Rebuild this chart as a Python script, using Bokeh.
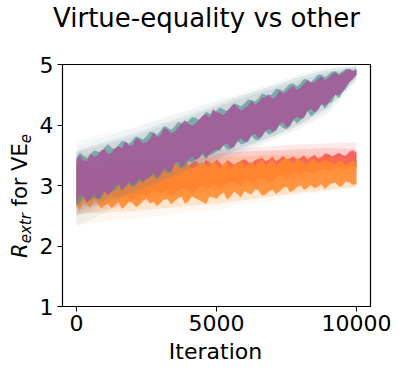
from bokeh.plotting import figure
from bokeh.models import Range1d, FixedTicker, Div
from bokeh.layouts import column, row
from bokeh.embed import file_html
from bokeh.resources import INLINE

# ---------------- data ----------------
# band edges every 250 iterations, plus the values read half-way between them
iterations = [0, 250, 500, 750, 1000, 1250, 1500, 1750, 2000, 2250, 2500, 2750, 3000,
              3250, 3500, 3750, 4000, 4250, 4500, 4750, 5000, 5250, 5500, 5750, 6000,
              6250, 6500, 6750, 7000, 7250, 7500, 7750, 8000, 8250, 8500, 8750, 9000,
              9250, 9500, 9750, 10000]
mid_iterations = [125, 375, 625, 875, 1125, 1375, 1625, 1875, 2125, 2375, 2625, 2875,
                  3125, 3375, 3625, 3875, 4125, 4375, 4625, 4875, 5125, 5375, 5625, 5875,
                  6125, 6375, 6625, 6875, 7125, 7375, 7625, 7875, 8125, 8375, 8625, 8875,
                  9125, 9375, 9625, 9875]

purple_hi = [3.44, 3.41, 3.53, 3.49, 3.60, 3.54, 3.65, 3.73, 3.67, 3.76, 3.72, 3.87, 3.83,
             3.93, 3.89, 4.02, 4.02, 4.02, 4.15, 4.12, 4.21, 4.16, 4.28, 4.29, 4.28, 4.41,
             4.37, 4.46, 4.43, 4.57, 4.55, 4.65, 4.62, 4.74, 4.71, 4.80, 4.78, 4.87, 4.86,
             4.92, 4.91]
purple_hi_mid = [3.50, 3.40, 3.47, 3.58, 3.52, 3.62, 3.61, 3.66, 3.78, 3.70, 3.77, 3.80,
                 3.95, 3.86, 3.96, 4.08, 3.99, 4.09, 4.18, 4.26, 4.20, 4.23, 4.35, 4.24,
                 4.32, 4.34, 4.45, 4.51, 4.47, 4.52, 4.61, 4.58, 4.68, 4.70, 4.77, 4.74,
                 4.84, 4.82, 4.90, 4.89]
purple_lo = [2.69, 2.81, 2.79, 2.78, 2.91, 2.90, 3.03, 2.99, 3.00, 3.12, 3.11, 3.22, 3.18,
             3.25, 3.36, 3.31, 3.43, 3.43, 3.54, 3.51, 3.59, 3.67, 3.62, 3.73, 3.72, 3.83,
             3.78, 3.90, 3.89, 4.01, 3.96, 4.09, 4.10, 4.23, 4.21, 4.35, 4.37, 4.50, 4.55,
             4.71, 4.83]
purple_lo_mid = [2.84, 2.72, 2.86, 2.83, 2.84, 2.98, 2.93, 3.07, 3.04, 3.06, 3.15, 3.13,
                 3.29, 3.22, 3.40, 3.37, 3.48, 3.46, 3.47, 3.57, 3.60, 3.70, 3.65, 3.78,
                 3.74, 3.85, 3.82, 3.94, 3.92, 4.05, 4.00, 4.14, 4.13, 4.27, 4.26, 4.32,
                 4.45, 4.49, 4.64, 4.76]

teal_hi = [3.46, 3.49, 3.52, 3.56, 3.63, 3.63, 3.67, 3.72, 3.75, 3.79, 3.81, 3.88, 3.90,
           3.96, 3.97, 4.03, 4.07, 4.12, 4.15, 4.19, 4.24, 4.26, 4.30, 4.34, 4.36, 4.41,
           4.44, 4.50, 4.52, 4.59, 4.62, 4.68, 4.69, 4.75, 4.77, 4.83, 4.83, 4.89, 4.89,
           4.93, 4.93]
teal_hi_mid = [3.54, 3.45, 3.58, 3.55, 3.68, 3.60, 3.74, 3.69, 3.81, 3.76, 3.89, 3.84,
               3.98, 3.92, 4.05, 4.01, 4.13, 4.08, 4.22, 4.17, 4.29, 4.23, 4.36, 4.31,
               4.42, 4.39, 4.52, 4.47, 4.60, 4.56, 4.68, 4.64, 4.76, 4.71, 4.83, 4.79,
               4.88, 4.85, 4.93, 4.90]
teal_lo = [2.68, 2.81, 2.76, 2.77, 2.89, 2.90, 3.00, 2.98, 2.98, 3.08, 3.11, 3.19, 3.17,
           3.21, 3.36, 3.29, 3.40, 3.42, 3.51, 3.51, 3.56, 3.66, 3.60, 3.73, 3.70, 3.82,
           3.75, 3.90, 3.87, 4.00, 3.93, 4.08, 4.08, 4.23, 4.19, 4.34, 4.35, 4.50, 4.54,
           4.71, 4.83]
teal_lo_mid = [2.70, 2.74, 2.80, 2.78, 2.86, 2.92, 2.91, 3.03, 3.00, 3.05, 3.12, 3.10,
               3.25, 3.20, 3.33, 3.31, 3.38, 3.45, 3.44, 3.52, 3.58, 3.59, 3.63, 3.68,
               3.72, 3.76, 3.80, 3.84, 3.90, 3.95, 3.98, 4.03, 4.12, 4.14, 4.24, 4.27,
               4.38, 4.44, 4.60, 4.76]

orange_hi = [3.33, 3.25, 3.34, 3.29, 3.25, 3.34, 3.27, 3.33, 3.25, 3.31, 3.29, 3.34, 3.27,
             3.32, 3.37, 3.27, 3.35, 3.31, 3.38, 3.30, 3.36, 3.37, 3.30, 3.36, 3.30, 3.40,
             3.37, 3.34, 3.42, 3.37, 3.45, 3.36, 3.41, 3.35, 3.43, 3.39, 3.40, 3.35, 3.39,
             3.37, 3.37]
orange_hi_mid = [3.22, 3.38, 3.24, 3.35, 3.31, 3.22, 3.38, 3.29, 3.36, 3.24, 3.37, 3.30,
                 3.39, 3.26, 3.33, 3.40, 3.28, 3.36, 3.33, 3.41, 3.29, 3.38, 3.33, 3.41,
                 3.35, 3.32, 3.43, 3.38, 3.33, 3.44, 3.40, 3.46, 3.38, 3.42, 3.36, 3.43,
                 3.38, 3.41, 3.34, 3.40]
orange_lo = [2.66, 2.71, 2.63, 2.71, 2.66, 2.63, 2.73, 2.66, 2.71, 2.68, 2.78, 2.73, 2.71,
             2.78, 2.74, 2.82, 2.74, 2.79, 2.73, 2.82, 2.78, 2.89, 2.81, 2.86, 2.91, 2.85,
             2.92, 2.85, 2.93, 2.90, 2.98, 2.92, 3.00, 2.96, 2.95, 3.02, 3.00, 3.05, 3.00,
             3.05, 3.03]
orange_lo_mid = [2.60, 2.69, 2.75, 2.62, 2.70, 2.67, 2.61, 2.74, 2.64, 2.75, 2.70, 2.66,
                 2.77, 2.69, 2.79, 2.70, 2.82, 2.76, 2.69, 2.80, 2.84, 2.77, 2.90, 2.80,
                 2.87, 2.94, 2.83, 2.90, 2.86, 2.96, 2.89, 2.97, 2.93, 3.01, 2.98, 2.94,
                 3.04, 2.98, 3.07, 3.01]

red_hi = [3.32, 3.25, 3.32, 3.25, 3.35, 3.29, 3.26, 3.36, 3.33, 3.29, 3.39, 3.28, 3.34,
          3.27, 3.35, 3.38, 3.32, 3.41, 3.33, 3.39, 3.43, 3.31, 3.39, 3.38, 3.44, 3.36,
          3.44, 3.40, 3.48, 3.44, 3.43, 3.48, 3.46, 3.43, 3.51, 3.47, 3.52, 3.51, 3.50,
          3.56, 3.54]
red_hi_mid = [3.27, 3.30, 3.21, 3.31, 3.26, 3.33, 3.31, 3.28, 3.37, 3.34, 3.31, 3.36,
              3.30, 3.38, 3.32, 3.34, 3.37, 3.36, 3.42, 3.35, 3.38, 3.42, 3.34, 3.41,
              3.39, 3.42, 3.46, 3.43, 3.40, 3.49, 3.45, 3.42, 3.50, 3.47, 3.45, 3.53,
              3.48, 3.54, 3.49, 3.58]
red_lo = [2.74, 2.81, 2.73, 2.80, 2.77, 2.84, 2.76, 2.82, 2.75, 2.85, 2.81, 2.93, 2.87,
          2.92, 2.87, 2.96, 2.93, 2.91, 3.00, 2.95, 3.00, 2.98, 3.07, 3.03, 3.07, 3.03,
          3.11, 3.09, 3.08, 3.16, 3.12, 3.21, 3.17, 3.24, 3.22, 3.26, 3.23, 3.28, 3.27,
          3.30, 3.29]
red_lo_mid = [2.79, 2.76, 2.78, 2.74, 2.82, 2.79, 2.80, 2.78, 2.81, 2.87, 2.86, 2.89,
              2.91, 2.84, 2.92, 2.95, 2.89, 2.97, 2.96, 3.02, 2.95, 3.03, 3.05, 3.00,
              3.09, 3.06, 3.13, 3.05, 3.13, 3.18, 3.15, 3.19, 3.22, 3.20, 3.25, 3.28,
              3.25, 3.31, 3.26, 3.32]

coarse_iterations = [0, 1000, 2000, 3000, 4000, 5000, 6000, 7000, 8000, 9000, 10000]
# spread of the individual runs (outer spikes)
teal_spread_lo = [2.50, 2.70, 2.87, 3.05, 3.25, 3.42, 3.62, 3.80, 4.00, 4.27, 4.76]
teal_spread_hi = [3.58, 3.72, 3.85, 4.02, 4.17, 4.34, 4.50, 4.65, 4.80, 4.92, 4.97]
purple_spread_lo = [2.55, 2.75, 2.90, 3.08, 3.28, 3.45, 3.65, 3.82, 4.02, 4.30, 4.78]
purple_spread_hi = [3.55, 3.68, 3.80, 3.97, 4.12, 4.30, 4.45, 4.60, 4.75, 4.88, 4.95]
orange_spread_lo = [2.55, 2.55, 2.58, 2.62, 2.66, 2.70, 2.76, 2.82, 2.88, 2.93, 2.98]
orange_spread_hi = [3.40, 3.38, 3.40, 3.42, 3.44, 3.46, 3.48, 3.50, 3.50, 3.48, 3.45]
red_spread_lo = [2.65, 2.68, 2.75, 2.80, 2.85, 2.90, 2.97, 3.02, 3.08, 3.15, 3.20]
red_spread_hi = [3.40, 3.42, 3.45, 3.48, 3.50, 3.53, 3.56, 3.58, 3.60, 3.62, 3.60]
# faint shaded halos
teal_halo_lo = [2.30, 2.55, 2.75, 2.95, 3.15, 3.35, 3.55, 3.75, 3.95, 4.20, 4.70]
teal_halo_hi = [3.75, 3.85, 3.95, 4.10, 4.25, 4.40, 4.55, 4.70, 4.85, 4.95, 5.00]
purple_halo_lo = [2.35, 2.55, 2.75, 2.95, 3.15, 3.35, 3.55, 3.75, 3.95, 4.20, 4.75]
purple_halo_hi = [3.65, 3.80, 3.95, 4.10, 4.25, 4.40, 4.50, 4.65, 4.80, 4.93, 4.97]
orange_halo_lo = [2.35, 2.40, 2.45, 2.50, 2.55, 2.60, 2.70, 2.75, 2.85, 2.90, 2.97]
orange_halo_hi = [3.55, 3.50, 3.50, 3.50, 3.50, 3.50, 3.50, 3.55, 3.55, 3.55, 3.50]
red_halo_lo = [2.50, 2.60, 2.70, 2.75, 2.80, 2.85, 2.90, 2.95, 3.00, 3.03, 3.05]
red_halo_hi = [3.50, 3.50, 3.50, 3.55, 3.55, 3.60, 3.62, 3.65, 3.68, 3.70, 3.72]

x_ticks = [0, 5000, 10000]
y_ticks = [1, 2, 3, 4, 5]

title_text = "Virtue-equality vs other"
xlabel_text = "Iteration"

TEAL = "#3a9c8a"
PURPLE = "#a35c99"
RED = "#f5504c"
ORANGE = "#ff892a"
FONT = "DejaVu Sans"


def merged(main, mid):
    """Put the read values of the 250-grid and the half-way points in iteration order."""
    pts = sorted(list(zip(iterations, main)) + list(zip(mid_iterations, mid)))
    return [pt[0] for pt in pts], [pt[1] for pt in pts]


# ---------------- layout sizes ----------------
PAGE_MARGIN = 8
TOTAL_W = 383
TITLE_H = 40
XLAB_H = 22
YLAB_W = 28
PLOT_W = TOTAL_W - YLAB_W
PLOT_H = 356 - TITLE_H - XLAB_H

# ---------------- figure ----------------
p = figure(width=PLOT_W, height=PLOT_H, x_range=Range1d(-500, 10500), y_range=Range1d(1, 5),
           output_backend="svg", toolbar_location=None, margin=0,
           min_border_left=25, min_border_right=21, min_border_top=16, min_border_bottom=36)
p.background_fill_color = "white"
p.border_fill_color = "white"
p.outline_line_color = "black"
p.outline_line_width = 1.2
p.outline_line_alpha = 1
p.xgrid.visible = False
p.ygrid.visible = False

for ax, ticks in ((p.xaxis[0], x_ticks), (p.yaxis[0], y_ticks)):
    ax.ticker = FixedTicker(ticks=ticks)
    ax.minor_tick_line_color = None
    ax.major_tick_in = 0
    ax.major_tick_out = 5
    ax.major_tick_line_color = "black"
    ax.axis_line_color = "black"
    ax.major_label_text_font = FONT
    ax.major_label_text_font_size = "22px"
    ax.major_label_text_color = "black"
p.xaxis.major_label_standoff = 3
p.yaxis.major_label_standoff = 4

# faint halos
for lo, hi, col, a in ((teal_halo_lo, teal_halo_hi, TEAL, 0.05),
                       (purple_halo_lo, purple_halo_hi, PURPLE, 0.04),
                       (red_halo_lo, red_halo_hi, RED, 0.12),
                       (orange_halo_lo, orange_halo_hi, ORANGE, 0.06)):
    p.varea(x=coarse_iterations, y1=lo, y2=hi, fill_color=col, fill_alpha=a)

# spreads + dense bands, drawn series by series
series = (
    (red_spread_lo, red_spread_hi, red_lo, red_lo_mid, red_hi, red_hi_mid, RED, 0.18, 0.85),
    (orange_spread_lo, orange_spread_hi, orange_lo, orange_lo_mid, orange_hi, orange_hi_mid,
     ORANGE, 0.18, 0.85),
    (teal_spread_lo, teal_spread_hi, teal_lo, teal_lo_mid, teal_hi, teal_hi_mid,
     TEAL, 0.12, 0.65),
    (purple_spread_lo, purple_spread_hi, purple_lo, purple_lo_mid, purple_hi, purple_hi_mid,
     PURPLE, 0.12, 0.92),
)
for slo, shi, lo, lo_mid, hi, hi_mid, col, sa, a in series:
    p.varea(x=coarse_iterations, y1=slo, y2=shi, fill_color=col, fill_alpha=sa)
    xs, ylo = merged(lo, lo_mid)
    _, yhi = merged(hi, hi_mid)
    p.varea(x=xs, y1=ylo, y2=yhi, fill_color=col, fill_alpha=a)

# ---------------- texts as divs ----------------
title_div = Div(width=TOTAL_W, height=TITLE_H, margin=0, text=(
    f'<div style="position:relative;width:{TOTAL_W}px;height:{TITLE_H}px;">'
    f'<div style="position:absolute;left:45px;top:-3px;white-space:nowrap;'
    f'font-family:\'{FONT}\';font-size:26px;line-height:26px;color:black;">'
    f'{title_text}</div></div>'))

ylab_div = Div(width=YLAB_W, height=PLOT_H, margin=0, text=(
    f'<div style="position:relative;width:{YLAB_W}px;height:{PLOT_H}px;">'
    f'<div style="position:absolute;left:-138px;top:134px;width:300px;height:28px;'
    f'line-height:28px;text-align:center;white-space:nowrap;transform:rotate(-90deg);'
    f'font-family:\'{FONT}\';font-size:21px;color:black;">'
    f'<i>R</i><span style="font-size:15px;vertical-align:-4px;line-height:0;"><i>extr</i></span>'
    f' for VE<span style="font-size:15px;vertical-align:-4px;line-height:0;"><i>e</i></span>'
    f'</div></div>'))

xlab_div = Div(width=TOTAL_W, height=XLAB_H, margin=0, text=(
    f'<div style="position:relative;width:{TOTAL_W}px;height:{XLAB_H}px;">'
    f'<div style="position:absolute;left:0px;top:-1px;width:415px;text-align:center;'
    f'white-space:nowrap;font-family:\'{FONT}\';font-size:22px;line-height:22px;color:black;">'
    f'{xlabel_text}</div></div>'))

layout = column(title_div, row(ylab_div, p, spacing=0, margin=0), xlab_div,
                spacing=0, margin=(PAGE_MARGIN, 0, 0, PAGE_MARGIN))

open("out.html", "w").write(file_html(layout, INLINE))
